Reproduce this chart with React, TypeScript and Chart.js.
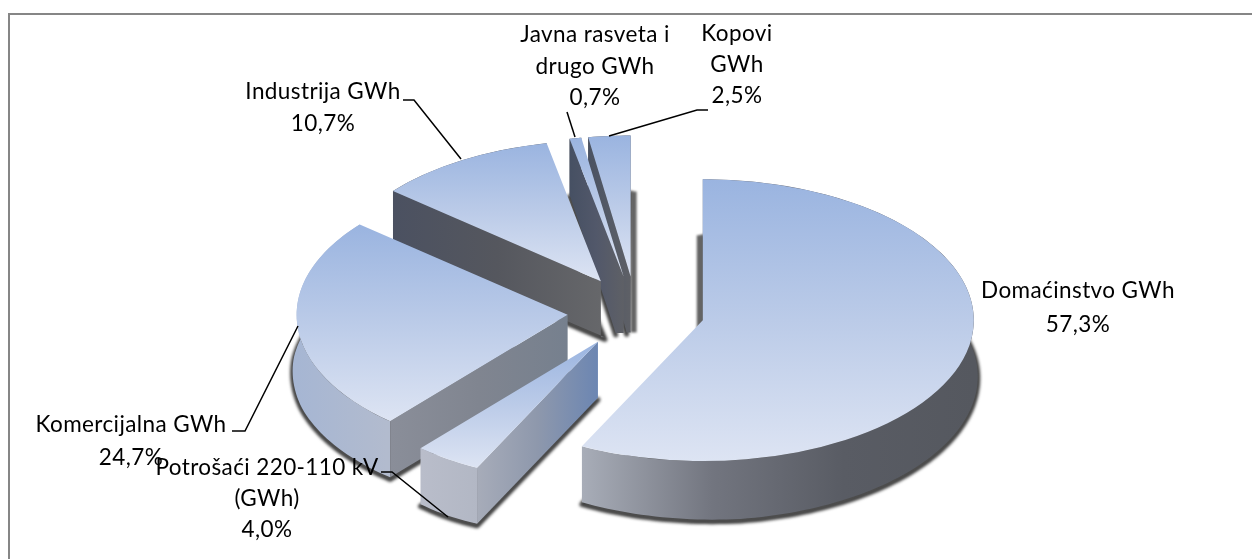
import React, { useEffect, useRef } from "react";
import { Chart, registerables } from "chart.js";

Chart.register(...registerables);

const categories = ["Domaćinstvo GWh", "Potrošaći 220-110 kV (GWh)", "Komercijalna GWh", "Industrija GWh", "Javna rasveta i drugo GWh", "Kopovi GWh"];
const shares = [57.3, 4.0, 24.7, 10.7, 0.7, 2.5];
const labelLines = [
  ["Domaćinstvo GWh"],
  ["Potrošaći 220-110 kV", "(GWh)"],
  ["Komercijalna GWh"],
  ["Industrija GWh"],
  ["Javna rasveta i", "drugo GWh"],
  ["Kopovi", "GWh"],
];

// layout of the labels: [centre x, first baseline, line height]
const labelBoxes = [
  [1078, 298, 34],
  [267, 475, 31],
  [131, 432, 33],
  [323, 99, 32],
  [595, 42, 31.5],
  [737, 41, 31],
];
const leaders = [
  null,
  [[381, 472], [392, 472], [448, 517]],
  [[232, 431], [245, 431], [298, 326]],
  [[403, 100], [414, 100], [461, 159]],
  [[567, 112], [575, 137]],
  [[708, 110], [697, 110], [609, 136]],
];

// projection of the pie plane
const CX = 636;
const CY = 312;
const SQUASH = 0.52;
const EXPLODE = 68.6;
const RADIUS = 271;
const DEPTH = 56;
const drawOrder = [5, 4, 3, 0, 2, 1];

const topStops = ["#9AB4E0", "#BBCBE8", "#DDE4F3"];
const rimStops = [
  ["#A8ADB8", "#72757F", "#595C64", "#55585F"],
  ["#B9BDCA", "#B2B7C4", "#AEB3C0", "#A8ADBA"],
  ["#A6B6D3", "#B2BBCE", "#B5BAC7", "#ADB1BC"],
  ["#55585F", "#55585F", "#55585F", "#55585F"],
  ["#55585F", "#55585F", "#55585F", "#55585F"],
  ["#55585F", "#55585F", "#55585F", "#55585F"],
];
const startFaceStops = [
  ["#666666", "#666666", "#666666"],
  ["#A7ACB9", "#8E98AC", "#6C86B2"],
  ["#8A8E99", "#808590", "#76808E"],
  ["#4B5161", "#55575E", "#66676A"],
  ["#465063", "#52586A", "#5E6066"],
  ["#4A5262", "#545A66", "#5E6066"],
];
const backStrips = [-6, 0, 0, 0, 0, 6];
const apexFlares = [0, 0, 0, 4, -8, -4];

const stops = (g: CanvasGradient, colors: string[]) => {
  colors.forEach((c, i) => g.addColorStop(i / (colors.length - 1), c));
  return g;
};

const pieSlabs = {
  id: "pieSlabs",
  beforeDraw(chart: any) {
    const ctx = chart.ctx;
    ctx.save();
    ctx.strokeStyle = "#868686";
    ctx.lineWidth = 2;
    ctx.beginPath();
    ctx.moveTo(9, 559);
    ctx.lineTo(9, 14);
    ctx.lineTo(1252, 14);
    ctx.stroke();
    ctx.restore();
  },
  beforeDatasetDraw(chart: any) {
    const ctx = chart.ctx;
    const arcs = chart.getDatasetMeta(0).data;
    for (const i of drawOrder) {
      const arc = arcs[i];
      const a0 = arc.startAngle;
      const a1 = arc.endAngle;
      const mid = (a0 + a1) / 2;
      const ex = Math.cos(mid) * EXPLODE;
      const ey = Math.sin(mid) * EXPLODE;
      const R = arc.outerRadius;
      const px = (a: number, r: number) => CX + ex + r * Math.cos(a);
      const py = (a: number, r: number, dz = 0) => CY + SQUASH * (ey + r * Math.sin(a)) + dz;
      const steps = Math.max(8, Math.ceil(((a1 - a0) / Math.PI) * 120));
      const arcPts: number[] = [];
      for (let s = 0; s <= steps; s++) arcPts.push(a0 + ((a1 - a0) * s) / steps);
      const xs = arcPts.map((a) => px(a, R));
      const ysTop = arcPts.map((a) => py(a, R));
      const xMin = Math.min(...xs, px(0, 0));
      const xMax = Math.max(...xs, px(0, 0));
      // the underside flares a little, except at the cut corners
      const flare = (a: number) => 4 * Math.min(1, Math.min(a - a0, a1 - a) / 0.6);
      const apexFlare = apexFlares[i];

      // soft contact shadow
      ctx.save();
      ctx.filter = "blur(1.4px)";
      ctx.fillStyle = "#454545";
      ctx.strokeStyle = "#454545";
      ctx.lineWidth = 5;
      ctx.lineJoin = "round";
      ctx.beginPath();
      ctx.moveTo(px(0, 0) + apexFlare, py(0, 0, DEPTH + 2));
      arcPts.forEach((a) => ctx.lineTo(px(a, R + flare(a)), py(a, R, DEPTH + 2 + flare(a) * Math.max(0, Math.sin(a)) * 0.8)));
      ctx.closePath();
      ctx.fill();
      ctx.stroke();
      ctx.restore();

      // hidden back face peeking out behind a vertical edge
      const shift = backStrips[i];
      if (shift !== 0) {
        const edge = shift < 0 ? a0 : a1;
        const x0 = px(edge, R);
        ctx.save();
        ctx.filter = "blur(0.8px)";
        ctx.fillStyle = "#646464";
        ctx.fillRect(Math.min(x0, x0 + shift), py(edge, R, DEPTH), Math.abs(shift), R * SQUASH);
        ctx.restore();
      }

      // outer rim
      ctx.fillStyle = stops(ctx.createLinearGradient(xMin, 0, xMax, 0), rimStops[i]);
      ctx.beginPath();
      xs.forEach((x, s) => (s ? ctx.lineTo(x, ysTop[s]) : ctx.moveTo(x, ysTop[s])));
      for (let s = steps; s >= 0; s--) {
        const a = arcPts[s];
        ctx.lineTo(px(a, R + flare(a)), py(a, R, DEPTH + flare(a) * Math.max(0, Math.sin(a)) * 0.8));
      }
      ctx.closePath();
      ctx.fill();

      // cut face on the leading edge
      const p0x = px(a0, R);
      const apexX = px(0, 0);
      const face = stops(ctx.createLinearGradient(Math.min(p0x, apexX), 0, Math.max(p0x, apexX), 0), p0x < apexX ? startFaceStops[i] : [...startFaceStops[i]].reverse());
      ctx.fillStyle = face;
      ctx.beginPath();
      ctx.moveTo(apexX, py(0, 0));
      ctx.lineTo(p0x, py(a0, R));
      ctx.lineTo(p0x, py(a0, R, DEPTH));
      ctx.lineTo(apexX + apexFlare, py(0, 0, DEPTH));
      if (apexFlare !== 0) ctx.lineTo(apexX, py(0, 0, DEPTH));
      ctx.closePath();
      ctx.fill();

      // top face, drawn by the library's own arc element under the projection
      const yUser = arcPts.map((a) => arc.y + R * Math.sin(a)).concat(arc.y);
      ctx.save();
      ctx.translate(CX + ex, CY + SQUASH * ey);
      ctx.scale(1, SQUASH);
      ctx.translate(-arc.x, -arc.y);
      const g = stops(ctx.createLinearGradient(0, Math.min(...yUser), 0, Math.max(...yUser)), topStops);
      arc.options = { ...arc.options, backgroundColor: g, borderWidth: 0, offset: 0 };
      arc.draw(ctx);
      ctx.restore();
    }
    return false;
  },
  afterDraw(chart: any) {
    const ctx = chart.ctx;
    ctx.save();
    ctx.strokeStyle = "#000000";
    ctx.lineWidth = 1.5;
    leaders.forEach((pts) => {
      if (!pts) return;
      ctx.beginPath();
      pts.forEach(([x, y], i) => (i ? ctx.lineTo(x, y) : ctx.moveTo(x, y)));
      ctx.stroke();
    });
    ctx.fillStyle = "#000000";
    ctx.textAlign = "center";
    ctx.textBaseline = "alphabetic";
    ctx.font = "22.5px Lato";
    ctx.letterSpacing = "0.4px";
    labelLines.forEach((lines, i) => {
      const [x, y, lh] = labelBoxes[i];
      const all = [...lines, shares[i].toFixed(1).replace(".", ",") + "%"];
      all.forEach((t, n) => ctx.fillText(t, x, y + n * lh));
    });
    ctx.restore();
  },
};

export default function App() {
  const ref = useRef<HTMLCanvasElement | null>(null);
  useEffect(() => {
    const chart = new Chart(ref.current as HTMLCanvasElement, {
      type: "pie",
      data: {
        labels: categories,
        datasets: [{ data: shares, backgroundColor: "#9AB4E0", borderWidth: 0 }],
      },
      options: {
        animation: false,
        responsive: false,
        devicePixelRatio: 1,
        radius: RADIUS,
        layout: { padding: 0 },
        plugins: { legend: { display: false }, tooltip: { enabled: false } },
      },
      plugins: [pieSlabs],
    } as any);
    return () => chart.destroy();
  }, []);
  return (
    <div style={{ position: "absolute", left: 0, top: 0, width: 1252, height: 559, background: "#fff" }}>
      <canvas ref={ref} width={1252} height={559} style={{ display: "block" }} />
    </div>
  );
}
